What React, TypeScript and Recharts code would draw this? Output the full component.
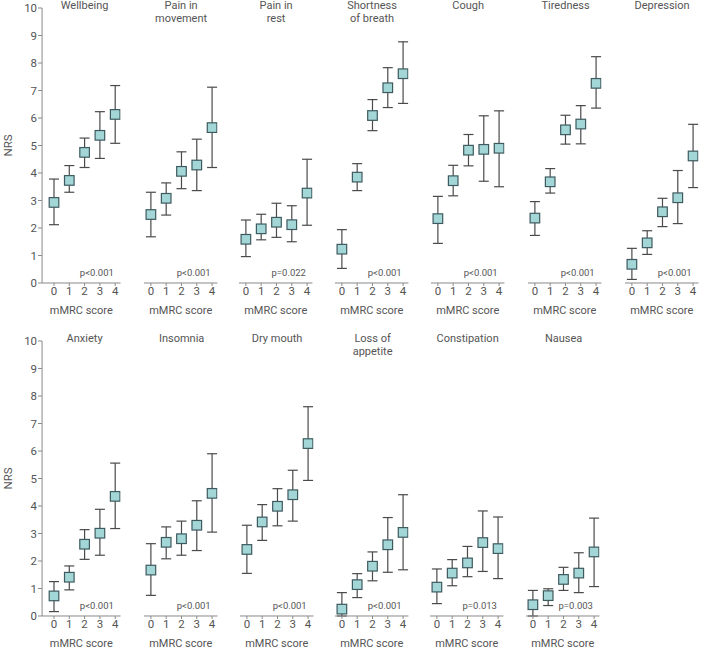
import React from "react";
import { ScatterChart, Scatter, XAxis, YAxis, ErrorBar, ReferenceDot } from "recharts";

const mmrc = [0, 1, 2, 3, 4];
const yTicks = [0, 1, 2, 3, 4, 5, 6, 7, 8, 9, 10];

const titles = [
  ["Wellbeing"], ["Pain in", "movement"], ["Pain in", "rest"], ["Shortness", "of breath"],
  ["Cough"], ["Tiredness"], ["Depression"],
  ["Anxiety"], ["Insomnia"], ["Dry mouth"], ["Loss of", "appetite"], ["Constipation"], ["Nausea"],
];
const pValues = [
  "p<0.001", "p<0.001", "p=0.022", "p<0.001", "p<0.001", "p<0.001", "p<0.001",
  "p<0.001", "p<0.001", "p<0.001", "p<0.001", "p=0.013", "p=0.003",
];

// mean, lower and upper end of the bars, per symptom
const wellbeingMean = [2.93, 3.73, 4.75, 5.37, 6.13];
const wellbeingLow = [2.12, 3.3, 4.2, 4.53, 5.08];
const wellbeingHigh = [3.78, 4.27, 5.27, 6.23, 7.18];

const painMoveMean = [2.49, 3.08, 4.06, 4.29, 5.65];
const painMoveLow = [1.68, 2.47, 3.43, 3.36, 4.2];
const painMoveHigh = [3.3, 3.64, 4.77, 5.23, 7.12];

const painRestMean = [1.59, 1.97, 2.21, 2.12, 3.27];
const painRestLow = [0.96, 1.57, 1.66, 1.5, 2.1];
const painRestHigh = [2.29, 2.5, 2.9, 2.81, 4.5];

const breathMean = [1.23, 3.85, 6.09, 7.1, 7.61];
const breathLow = [0.53, 3.36, 5.54, 6.38, 6.53];
const breathHigh = [1.94, 4.34, 6.67, 7.83, 8.77];

const coughMean = [2.34, 3.72, 4.83, 4.86, 4.9];
const coughLow = [1.44, 3.17, 4.26, 3.7, 3.5];
const coughHigh = [3.15, 4.28, 5.4, 6.08, 6.26];

const tirednessMean = [2.36, 3.68, 5.57, 5.78, 7.26];
const tirednessLow = [1.73, 3.27, 5.05, 5.06, 6.36];
const tirednessHigh = [2.96, 4.16, 6.1, 6.45, 8.23];

const depressionMean = [0.68, 1.46, 2.59, 3.1, 4.62];
const depressionLow = [0.13, 1.04, 2.05, 2.16, 3.47];
const depressionHigh = [1.26, 1.9, 3.08, 4.09, 5.77];

const anxietyMean = [0.73, 1.41, 2.61, 3.01, 4.35];
const anxietyLow = [0.16, 0.95, 2.06, 2.21, 3.18];
const anxietyHigh = [1.25, 1.82, 3.14, 3.88, 5.56];

const insomniaMean = [1.67, 2.68, 2.81, 3.3, 4.46];
const insomniaLow = [0.75, 2.08, 2.21, 2.38, 3.05];
const insomniaHigh = [2.63, 3.24, 3.45, 4.19, 5.9];

const dryMouthMean = [2.42, 3.42, 3.99, 4.41, 6.27];
const dryMouthLow = [1.55, 2.75, 3.28, 3.45, 4.93];
const dryMouthHigh = [3.3, 4.05, 4.63, 5.3, 7.61];

const appetiteMean = [0.25, 1.14, 1.81, 2.59, 3.04];
const appetiteLow = [0, 0.67, 1.28, 1.59, 1.68];
const appetiteHigh = [0.85, 1.54, 2.33, 3.58, 4.41];

const constipationMean = [1.05, 1.56, 1.93, 2.67, 2.45];
const constipationLow = [0.45, 1.1, 1.43, 1.62, 1.36];
const constipationHigh = [1.71, 2.05, 2.53, 3.82, 3.6];

const nauseaMean = [0.41, 0.74, 1.33, 1.56, 2.33];
const nauseaLow = [0, 0.38, 0.93, 0.85, 1.07];
const nauseaHigh = [0.93, 0.99, 1.77, 2.3, 3.56];

const series = [
  [wellbeingMean, wellbeingLow, wellbeingHigh],
  [painMoveMean, painMoveLow, painMoveHigh],
  [painRestMean, painRestLow, painRestHigh],
  [breathMean, breathLow, breathHigh],
  [coughMean, coughLow, coughHigh],
  [tirednessMean, tirednessLow, tirednessHigh],
  [depressionMean, depressionLow, depressionHigh],
  [anxietyMean, anxietyLow, anxietyHigh],
  [insomniaMean, insomniaLow, insomniaHigh],
  [dryMouthMean, dryMouthLow, dryMouthHigh],
  [appetiteMean, appetiteLow, appetiteHigh],
  [constipationMean, constipationLow, constipationHigh],
  [nauseaMean, nauseaLow, nauseaHigh],
];

const FONT = "Roboto, 'DejaVu Sans', sans-serif";
const TEXT = "#555";
const AXIS = "#8a8a8a";
const UNIT = 15.3; // px per mMRC step
const X_MIN = -0.45;
const X_MAX = 4.35;
const FIRST_X_MIN = -0.78;
const PLOT_H = 275;
const TOP_M = 8;
const X_AXIS_H = 40;

// x of tick "0" for each panel
const topX0 = [54, 150.5, 245.5, 341.5, 437.5, 535, 631.5];
const bottomX0 = [54, 151, 246.5, 342, 437, 533];

const Square = (props: any) => {
  const { cx, cy } = props;
  if (cx == null || cy == null) return null;
  return <rect x={cx - 4.8} y={cy - 4.8} width={9.6} height={9.6} fill="#a3d6d6" stroke="#3e5a5f" strokeWidth={1.2} />;
};

const Nothing = () => null;

function Panel({ idx, x0, top, first }: { idx: number; x0: number; top: number; first: boolean }) {
  const [mean, low, high] = series[idx];
  const rows = mmrc.map((m, i) => ({ x: m, y: mean[i], err: [mean[i] - low[i], high[i] - mean[i]] }));
  const xmin = first ? FIRST_X_MIN : X_MIN;
  const plotLeft = x0 + xmin * UNIT;
  const yAxisW = first ? plotLeft : 0;
  const chartLeft = first ? 0 : plotLeft;
  const plotW = (X_MAX - xmin) * UNIT;
  const width = yAxisW + plotW + 2;
  const height = TOP_M + PLOT_H + X_AXIS_H;

  return (
    <>
      <div style={{ position: "absolute", left: chartLeft, top }}>
        <ScatterChart width={width} height={height} margin={{ top: TOP_M, right: 2, bottom: 0, left: 0 }}>
          <XAxis
            type="number"
            dataKey="x"
            domain={[xmin, X_MAX]}
            ticks={mmrc}
            interval={0}
            allowDataOverflow
            height={X_AXIS_H}
            tickSize={3}
            tickMargin={1}
            stroke={AXIS}
            tick={{ fill: TEXT, fontSize: 11.5, fontFamily: FONT }}
            label={{ value: "mMRC score", position: "insideBottom", offset: 9, fill: TEXT, fontSize: 11, fontFamily: FONT }}
          />
          <YAxis
            type="number"
            dataKey="y"
            domain={[0, 10]}
            ticks={yTicks}
            interval={0}
            hide={!first}
            width={yAxisW}
            tickSize={4}
            tickMargin={1}
            stroke={AXIS}
            tick={{ fill: TEXT, fontSize: 11.5, fontFamily: FONT }}
            label={(p: any) => {
              const vb = p.viewBox || {};
              const cy = (vb.y ?? TOP_M) + (vb.height ?? PLOT_H) / 2;
              return (
                <text x={12} y={cy} transform={`rotate(-90, 12, ${cy})`} textAnchor="middle" fill={TEXT} fontSize={11.5} fontFamily={FONT}>
                  NRS
                </text>
              );
            }}
          />
          <Scatter data={rows} shape={<Nothing />} isAnimationActive={false}>
            <ErrorBar dataKey="err" direction="y" width={5} stroke="#4a4a4a" strokeWidth={1.2} />
          </Scatter>
          <Scatter data={rows} shape={<Square />} isAnimationActive={false} />
          <ReferenceDot
            x={2.8}
            y={0.37}
            r={0}
            stroke="none"
            label={{ value: pValues[idx], position: "center", fill: TEXT, fontSize: 9.5, fontFamily: FONT }}
          />
        </ScatterChart>
      </div>
      <div
        style={{
          position: "absolute",
          left: x0 + 2 * UNIT - 50,
          top: top - 1,
          width: 100,
          textAlign: "center",
          fontFamily: FONT,
          fontSize: 11,
          lineHeight: "13px",
          color: TEXT,
        }}
      >
        {titles[idx].map((t) => (
          <div key={t}>{t}</div>
        ))}
      </div>
    </>
  );
}

export default function App() {
  return (
    <div style={{ position: "absolute", left: 0, top: 0, width: 705, height: 649, background: "#fff", overflow: "hidden" }}>
      {topX0.map((x0, i) => (
        <Panel key={`t${i}`} idx={i} x0={x0} top={0} first={i === 0} />
      ))}
      {bottomX0.map((x0, i) => (
        <Panel key={`b${i}`} idx={i + 7} x0={x0} top={333} first={i === 0} />
      ))}
    </div>
  );
}
